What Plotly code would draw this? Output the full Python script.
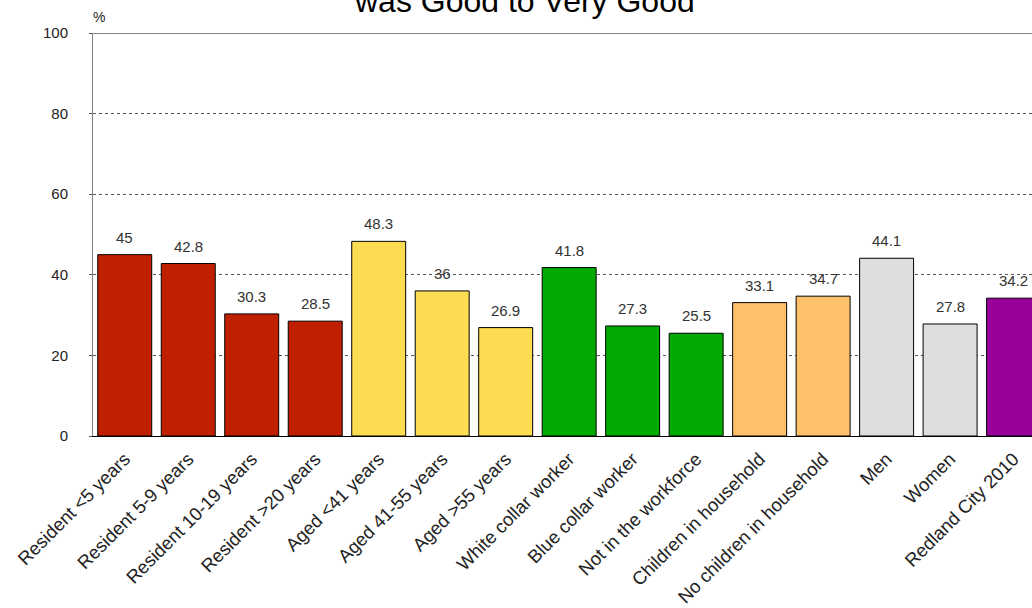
import plotly.graph_objects as go

categories = ["Resident <5 years", "Resident 5-9 years", "Resident 10-19 years", "Resident >20 years",
              "Aged <41 years", "Aged 41-55 years", "Aged >55 years",
              "White collar worker", "Blue collar worker", "Not in the workforce",
              "Children in household", "No children in household",
              "Men", "Women", "Redland City 2010"]
values = [45, 42.8, 30.3, 28.5, 48.3, 36, 26.9, 41.8, 27.3, 25.5, 33.1, 34.7, 44.1, 27.8, 34.2]
value_labels = ["45", "42.8", "30.3", "28.5", "48.3", "36", "26.9", "41.8", "27.3", "25.5",
                "33.1", "34.7", "44.1", "27.8", "34.2"]
groups = ["res"] * 4 + ["age"] * 3 + ["work"] * 3 + ["child"] * 2 + ["sex"] * 2 + ["city"]
group_colors = {"res": "#C02000", "age": "#FCDC50", "work": "#00AA00",
                "child": "#FFC06A", "sex": "#DEDEDE", "city": "#990099"}
y_ticks = [0, 20, 40, 60, 80, 100]

xs = list(range(len(categories)))

fig = go.Figure()
fig.add_trace(go.Bar(
    x=xs, y=values,
    marker=dict(color=[group_colors[g] for g in groups], line=dict(color="#000000", width=1)),
    width=0.85,
))

annotations = [
    dict(text=lab, x=x, y=v, xref="x", yref="y", xanchor="center", yanchor="bottom",
         yshift=7, showarrow=False,
         font=dict(family="Liberation Sans, Arial", size=15, color="#333333"))
    for x, v, lab in zip(xs, values, value_labels)
]
annotations += [
    dict(text="%", xref="paper", yref="paper", x=0.0, y=1.0, xanchor="left", yanchor="bottom",
         xshift=-2, yshift=6, showarrow=False, font=dict(size=14, color="#222222")),
    dict(text="was Good to Very Good", xref="paper", yref="paper", x=0.4595, y=1.0,
         xanchor="center", yanchor="bottom", yshift=12, showarrow=False,
         font=dict(size=32, color="#000000")),
]

fig.update_layout(
    template="none",
    width=1032, height=608,
    margin=dict(l=93, r=0, t=33, b=172, autoexpand=False),
    paper_bgcolor="white", plot_bgcolor="white",
    showlegend=False,
    font=dict(family="Liberation Sans, Arial", color="#222222"),
    xaxis=dict(
        tickmode="array", tickvals=xs, ticktext=categories, automargin=False,
        tickangle=-45, tickfont=dict(size=18.5, color="#222222"),
        ticklabelstandoff=4,
        range=[-0.5, 14.29], showgrid=False, zeroline=False,
        showline=True, linecolor="#000000", linewidth=1, ticks="",
    ),
    yaxis=dict(
        range=[0, 100], tickvals=y_ticks, ticktext=[str(v) for v in y_ticks], automargin=False,
        tickfont=dict(size=15, color="#222222"),
        ticklabelstandoff=18,
        showgrid=True, gridcolor="#555555", gridwidth=1, griddash="3px,3px",
        zeroline=False, showline=True, linecolor="#808080", linewidth=1,
        ticks="outside", ticklen=3, tickcolor="#555555",
    ),
    shapes=[dict(type="line", xref="paper", yref="y", x0=0, x1=1, y0=100, y1=100,
                 line=dict(color="#808080", width=2))],
    annotations=annotations,
)

fig.write_html("out.html")
